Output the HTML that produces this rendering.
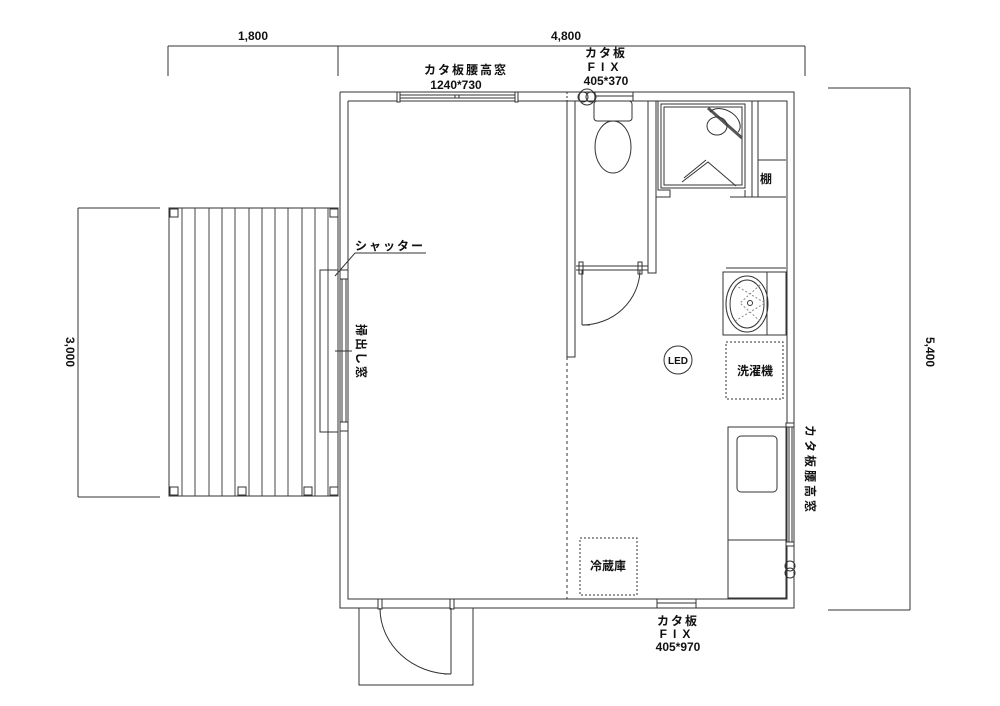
<!DOCTYPE html>
<html><head><meta charset="utf-8"><style>
html,body{margin:0;padding:0;background:#fff;width:1000px;height:706px;overflow:hidden}
text{font-family:"Liberation Sans","Noto Sans CJK JP",sans-serif;fill:#111;font-weight:600}
</style></head><body>
<svg width="1000" height="706" viewBox="0 0 1000 706" xmlns="http://www.w3.org/2000/svg">
<g stroke="#333" stroke-width="1" fill="none">
<line x1="168" y1="46" x2="805" y2="46"/>
<line x1="168" y1="46" x2="168" y2="76"/>
<line x1="338" y1="46" x2="338" y2="76"/>
<line x1="805" y1="46" x2="805" y2="76"/>
<line x1="828" y1="88" x2="910" y2="88"/>
<line x1="828" y1="610" x2="910" y2="610"/>
<line x1="910" y1="88" x2="910" y2="610"/>
<line x1="78" y1="208" x2="160" y2="208"/>
<line x1="78" y1="497" x2="160" y2="497"/>
<line x1="78" y1="208" x2="78" y2="497"/>
<polyline points="340,92 794,92 794,608 340,608 340,92"/>
<polyline points="348,101 787,101 787,599 348,599 348,101"/>
<rect x="169" y="208" width="169" height="288"/>
<g stroke="#444">
<line x1="182" y1="208" x2="182" y2="496"/><line x1="195" y1="208" x2="195" y2="496"/>
<line x1="209" y1="208" x2="209" y2="496"/><line x1="222" y1="208" x2="222" y2="496"/>
<line x1="235" y1="208" x2="235" y2="496"/><line x1="249" y1="208" x2="249" y2="496"/>
<line x1="262" y1="208" x2="262" y2="496"/><line x1="275" y1="208" x2="275" y2="496"/>
<line x1="288" y1="208" x2="288" y2="496"/><line x1="302" y1="208" x2="302" y2="496"/>
<line x1="315" y1="208" x2="315" y2="496"/><line x1="328" y1="208" x2="328" y2="496"/>
</g>
<rect x="170" y="209" width="8" height="8"/><rect x="330" y="209" width="8" height="8"/>
<rect x="170" y="487" width="8" height="8"/><rect x="238" y="487" width="8" height="8"/>
<rect x="304" y="487" width="8" height="8"/><rect x="330" y="487" width="8" height="8"/>
<rect x="320" y="270" width="18" height="162"/>
<rect x="340" y="270" width="8" height="9" fill="#fff"/>
<rect x="340" y="422" width="8" height="9" fill="#fff"/>
<line x1="342" y1="279" x2="342" y2="422"/><line x1="346" y1="279" x2="346" y2="422"/>
<line x1="335" y1="351" x2="352" y2="351"/>
<line x1="355" y1="253" x2="426" y2="253"/>
<line x1="355" y1="253" x2="335" y2="276"/>
<rect x="397" y="92" width="3" height="10" fill="#fff"/>
<rect x="515" y="92" width="3" height="10" fill="#fff"/>
<line x1="400" y1="95" x2="515" y2="95"/><line x1="400" y1="98" x2="515" y2="98"/>
<rect x="455" y="95" width="4" height="3"/>
<polyline points="567,101 567,357 575,357 575,101"/>
<line x1="567" y1="357" x2="567" y2="599" stroke-dasharray="3,3"/>
<line x1="567" y1="92" x2="567" y2="101" stroke-dasharray="2,2"/>
<rect x="595" y="92" width="38" height="9"/>
<line x1="595" y1="96" x2="633" y2="96"/>
<circle cx="583" cy="97" r="5"/><circle cx="591" cy="97" r="5"/><circle cx="587" cy="97" r="8"/>
<rect x="594" y="101" width="38" height="20" rx="3"/>
<ellipse cx="613" cy="147" rx="18" ry="26"/>
<polyline points="648,101 648,273 656,273 656,101"/>
<line x1="576" y1="266" x2="648" y2="266"/><line x1="576" y1="270" x2="648" y2="270"/>
<rect x="579" y="262" width="4" height="12"/><rect x="638" y="262" width="4" height="12"/>
<line x1="582" y1="270" x2="582" y2="325"/><line x1="582" y1="325" x2="590" y2="325"/>
<path d="M582,325 A58,56 0 0 0 640,270"/>
<polyline points="656,197 670,197 670,190 658,190 658,101"/>
<rect x="661" y="104" width="84" height="84"/>
<rect x="664" y="107" width="78" height="78"/>
<polyline points="730,197 745,197 745,190"/>
<polyline points="745,197 752,197 752,101"/>
<line x1="758" y1="101" x2="758" y2="197"/><line x1="752" y1="197" x2="786" y2="197"/>
<line x1="758" y1="160" x2="786" y2="160"/>
<path d="M708,108 L742,138" stroke-width="3" stroke="#555"/>
<path d="M710,112 a16,11 30 1 1 28,20"/>
<ellipse cx="717" cy="126" rx="10" ry="9"/>
<path d="M682,182 L708,162 L736,186"/><path d="M684,178 L706,160"/>
<rect x="723" y="272" width="63" height="63"/>
<line x1="767" y1="272" x2="767" y2="335"/>
<line x1="726" y1="268" x2="786" y2="268"/>
<ellipse cx="747" cy="304" rx="21" ry="28"/>
<ellipse cx="747" cy="304" rx="17" ry="24"/>
<circle cx="750" cy="303" r="2.5"/>
<path d="M735,285 L765,303 L735,321 M760,285 L740,303 L760,321" stroke-dasharray="2,2" stroke="#888"/>
<circle cx="678" cy="360" r="14"/>
<rect x="726" y="342" width="57" height="57" stroke-dasharray="2,2"/>
<rect x="728" y="427" width="58" height="171"/>
<rect x="737" y="436" width="40" height="56" rx="4"/>
<line x1="728" y1="540" x2="786" y2="540"/>
<rect x="786" y="423" width="8" height="4" fill="#fff"/>
<rect x="786" y="542" width="8" height="4" fill="#fff"/>
<line x1="789" y1="427" x2="789" y2="542"/><line x1="792" y1="427" x2="792" y2="542"/>
<circle cx="790" cy="566" r="5"/><circle cx="790" cy="573" r="5"/>
<rect x="580" y="538" width="57" height="57" stroke-dasharray="2,2"/>
<rect x="657" y="599" width="39" height="9" fill="#fff"/>
<line x1="657" y1="603" x2="696" y2="603"/>
<rect x="378" y="599" width="4" height="10" fill="#fff"/>
<rect x="450" y="599" width="4" height="10" fill="#fff"/>
<polyline points="359,608 359,685 473,685 473,608"/>
<line x1="451" y1="608" x2="451" y2="674"/><line x1="444" y1="674" x2="451" y2="674"/>
<path d="M380,608 A71,66 0 0 0 451,674"/>
</g>
<g font-size="12">
<text x="253" y="40" text-anchor="middle">1,800</text>
<text x="566" y="40" text-anchor="middle">4,800</text>
<text x="466" y="74" text-anchor="middle" letter-spacing="2">カタ板腰高窓</text>
<text x="456" y="89" text-anchor="middle">1240*730</text>
<text x="606" y="57" text-anchor="middle" letter-spacing="2">カタ板</text>
<text x="606" y="71" text-anchor="middle" letter-spacing="6">FIX</text>
<text x="606" y="85" text-anchor="middle">405*370</text>
<text x="766" y="183" text-anchor="middle">棚</text>
<text x="390" y="250" text-anchor="middle" letter-spacing="2">シャッター</text>
<text x="678" y="364" text-anchor="middle" font-size="10">LED</text>
<text x="755" y="375" text-anchor="middle" font-size="12">洗濯機</text>
<text x="608" y="570" text-anchor="middle" font-size="12">冷蔵庫</text>
<text x="678" y="625" text-anchor="middle" letter-spacing="2">カタ板</text>
<text x="678" y="638" text-anchor="middle" letter-spacing="6">FIX</text>
<text x="678" y="651" text-anchor="middle">405*970</text>
<text transform="translate(66,352) rotate(90)" text-anchor="middle">3,000</text>
<text transform="translate(926,352) rotate(90)" text-anchor="middle">5,400</text>
<text transform="translate(806,470) rotate(90)" text-anchor="middle" letter-spacing="3">カタ板腰高窓</text>
<text transform="translate(357,352) rotate(90)" text-anchor="middle" letter-spacing="2">掃出し窓</text>
</g>
</svg>
</body></html>
